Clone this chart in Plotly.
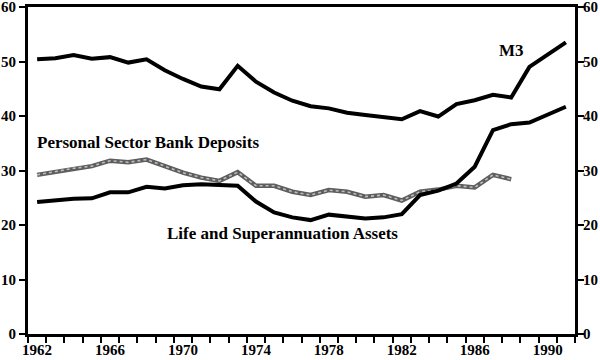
import plotly.graph_objects as go

years = list(range(1962, 1992))
m3 = [50.4, 50.6, 51.2, 50.5, 50.8, 49.8, 50.4, 48.4, 46.8, 45.4,
      44.9, 49.2, 46.3, 44.3, 42.8, 41.8, 41.4, 40.6, 40.2, 39.8,
      39.4, 40.9, 39.9, 42.2, 42.9, 43.9, 43.4, 49.0, 51.2, 53.5]
life_super = [24.2, 24.5, 24.8, 24.9, 26.0, 26.0, 27.0, 26.7, 27.3, 27.5,
              27.3, 27.2, 24.3, 22.3, 21.4, 20.9, 21.9, 21.5, 21.2, 21.4,
              22.0, 25.5, 26.3, 27.6, 30.7, 37.4, 38.5, 38.8, 40.2, 41.7]
dep_years = list(range(1962, 1989))
bank_deposits = [29.2, 29.8, 30.4, 30.8, 31.8, 31.5, 32.0, 30.8, 29.6, 28.7,
                 28.1, 29.7, 27.2, 27.2, 26.1, 25.5, 26.4, 26.1, 25.2, 25.5,
                 24.5, 26.1, 26.5, 27.2, 26.9, 29.2, 28.4]
y_ticks = [0, 10, 20, 30, 40, 50, 60]
x_ticks = [1962, 1966, 1970, 1974, 1978, 1982, 1986, 1990]

FONT = "Liberation Serif"

fig = go.Figure()
# Bank deposits: textured grey line
fig.add_trace(go.Scatter(x=dep_years, y=bank_deposits, mode="lines",
                         line=dict(color="#5e5e5e", width=4.5), hoverinfo="skip"))
fig.add_trace(go.Scatter(x=dep_years, y=bank_deposits, mode="lines",
                         line=dict(color="#bdbdbd", width=1.6, dash="dot"), hoverinfo="skip"))
fig.add_trace(go.Scatter(x=years, y=life_super, mode="lines",
                         line=dict(color="black", width=4), hoverinfo="skip"))
fig.add_trace(go.Scatter(x=years, y=m3, mode="lines",
                         line=dict(color="black", width=4), hoverinfo="skip"))
# invisible trace for right axis
fig.add_trace(go.Scatter(x=years, y=m3, mode="lines", yaxis="y2",
                         line=dict(color="rgba(0,0,0,0)", width=0), hoverinfo="skip"))

annots = [
    dict(x=1988.0, y=52.0, text="M3"),
    dict(x=1961.9, y=35.2, text="Personal Sector Bank Deposits", xanchor="left"),
    dict(x=1969.0, y=18.5, text="Life and Superannuation Assets", xanchor="left"),
]
for a in annots:
    fig.add_annotation(x=a["x"], y=a["y"], text=a["text"], showarrow=False,
                       xanchor=a.get("xanchor", "center"), yanchor="middle",
                       font=dict(family=FONT, size=17, color="black", weight="bold"))

tickfont = dict(family=FONT, size=15, color="black", weight="bold")
fig.update_layout(
    width=600, height=360,
    margin=dict(l=28, r=25, t=7, b=26, autoexpand=False),
    paper_bgcolor="white", plot_bgcolor="white",
    showlegend=False,
    xaxis=dict(range=[1961.5, 1991.5], tickvals=x_ticks, ticks="", ticklen=0,
               showgrid=False, zeroline=False, showline=True, linecolor="black",
               linewidth=3, mirror=True, tickfont=tickfont, automargin=False,
               ticklabeloverflow="allow",
               minor=dict(ticks="outside", tick0=1961.5, dtick=1, ticklen=6,
                          tickwidth=2, tickcolor="black", showgrid=False)),
    yaxis=dict(range=[0, 60], tickvals=y_ticks, ticks="outside", ticklen=6,
               tickwidth=2, tickcolor="black", showgrid=False, zeroline=False,
               showline=True, linecolor="black", linewidth=3, tickfont=tickfont,
               automargin=False, ticklabeloverflow="allow"),
    yaxis2=dict(range=[0, 60], tickvals=y_ticks, ticks="outside", ticklen=6,
                tickwidth=2, tickcolor="black", showgrid=False, zeroline=False,
                showline=True, linecolor="black", linewidth=3, tickfont=tickfont,
                overlaying="y", side="right", automargin=False,
                ticklabeloverflow="allow", ticklabelstandoff=-4),
)

fig.write_html("out.html", config={"displayModeBar": False},
               post_script="document.body.style.margin='0';document.body.style.overflow='hidden';")
